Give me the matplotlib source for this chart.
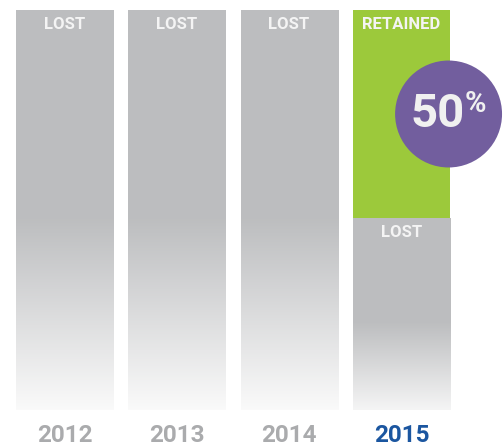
import numpy as np
import matplotlib
matplotlib.use("Agg")
import matplotlib.pyplot as plt

plt.rcParams["font.family"] = ["Roboto", "DejaVu Sans"]

# ---------------------------------------------------------------- DATA -----
years = ["2012", "2013", "2014", "2015"]
lost = [100, 100, 100, 50]          # share lost (%), bottom segment
retained = [0, 0, 0, 50]            # share retained (%), top segment
highlight_year = "2015"
headline = "50"                     # retained share shown in the badge

# ---------------------------------------------------------------- STYLE ----
GRAY = "#bcbdbf"
GREEN = "#9cc93b"
PURPLE = "#725e9e"
YEAR_GRAY = "#aaabad"
YEAR_BLUE = "#1b56a0"
LABEL = "#f4f4f4"
BAR_W = 0.864
FLOOR = 3.8                         # fade is cut off just above the baseline


def fade_fill(ax, patch, color):
    """Fill a bar with solid colour on its upper half fading to white below."""
    x0, y0 = patch.get_x(), patch.get_y()
    x1, y1 = x0 + patch.get_width(), y0 + patch.get_height()
    n = 600
    t = np.linspace(0, 1, n)[:, None]
    yy = y0 + t * (y1 - y0)
    alpha = np.clip(t * 2.0, 0, 1) * (yy >= FLOOR)
    rgba = np.zeros((n, 2, 4))
    rgba[..., :3] = matplotlib.colors.to_rgb(color)
    rgba[..., 3] = alpha
    im = ax.imshow(rgba, extent=(x0, x1, y0, y1), origin="lower",
                   aspect="auto", interpolation="nearest", zorder=1)
    im.set_clip_path(patch)


fig = plt.figure(figsize=(5.03, 4.47), dpi=100)
ax = fig.add_axes([0, 21 / 447, 1, 416 / 447])
x = np.arange(len(years))

lost_bars = ax.bar(x, lost, width=BAR_W, color="none", edgecolor="none")
for p in lost_bars:
    fade_fill(ax, p, GRAY)
ax.bar(x, retained, bottom=lost, width=BAR_W, color=GREEN, zorder=2)

off = 3.5  # label offset below segment top, in %
for i, (l, r) in enumerate(zip(lost, retained)):
    if r > 0:
        ax.text(i, l + r - off, "RETAINED", ha="center", va="center",
                color=LABEL, fontsize=12, fontweight="bold", zorder=5)
    ax.text(i, l - off, "LOST", ha="center", va="center",
            color=LABEL, fontsize=12, fontweight="bold", zorder=5)
    ax.text(i, -2.3, years[i], ha="center", va="center", clip_on=False,
            color=YEAR_BLUE if years[i] == highlight_year else YEAR_GRAY,
            fontsize=17.5, fontweight="bold")

# headline badge
hi = years.index(highlight_year)
bx, by = hi + 0.42, lost[hi] + retained[hi] * 0.5
ax.scatter([bx], [by], s=77 ** 2, color=PURPLE, edgecolors="none", zorder=4)
ax.text(bx - 0.095, by, headline, ha="center", va="center", color="#f0f0f0",
        fontsize=34, fontweight="bold", zorder=6)
ax.text(bx + 0.24, by + 2.4, "%", ha="center", va="center", color="#f0f0f0",
        fontsize=21, fontweight="bold", zorder=6)

ax.set_xlim(-64.5 / 112.3, (503 - 64.5) / 112.3)
ax.set_ylim(0, 100)
ax.axis("off")

fig.savefig("out.png", dpi=100)
